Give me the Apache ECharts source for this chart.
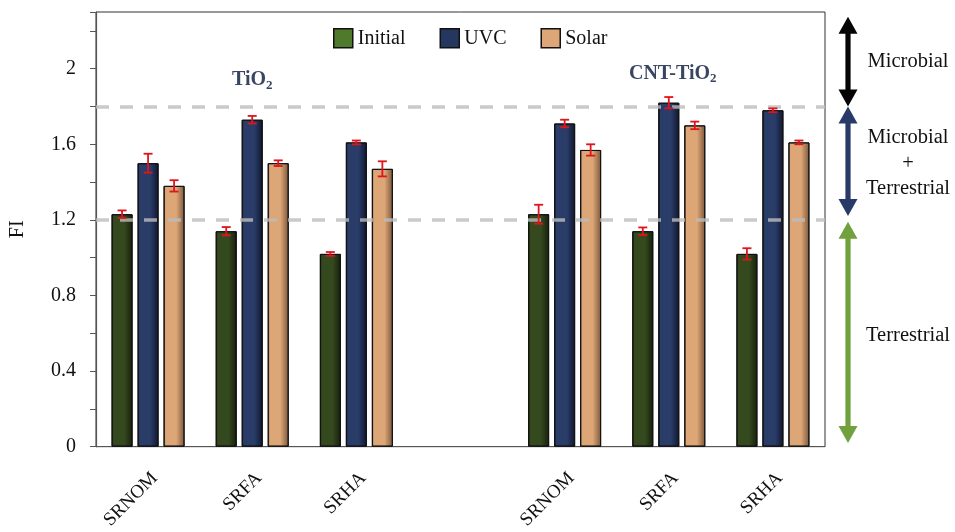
<!DOCTYPE html>
<html>
<head>
<meta charset="utf-8">
<style>
  html, body { margin: 0; padding: 0; background: #fff; }
  #chart { width: 955px; height: 532px; }
</style>
<script src="https://cdn.jsdelivr.net/npm/echarts@6/dist/echarts.min.js"></script>
</head>
<body>
<div id="chart"></div>
<script>
// Sample categories: TiO2 group, a spacer slot, then CNT-TiO2 group
const categories = ['SRNOM', 'SRFA', 'SRHA', '', 'SRNOM', 'SRFA', 'SRHA'];
const seriesNames = ['Initial', 'UVC', 'Solar'];

// Fluorescence index (FI) means
const initialFI = [1.23, 1.14, 1.02, null, 1.23, 1.14, 1.02];
const uvcFI     = [1.50, 1.73, 1.61, null, 1.71, 1.82, 1.78];
const solarFI   = [1.38, 1.50, 1.47, null, 1.57, 1.70, 1.61];

// Standard deviations (error bar half-lengths)
const initialErr = [0.02, 0.022, 0.01, null, 0.05, 0.02, 0.03];
const uvcErr     = [0.05, 0.02, 0.01, null, 0.02, 0.03, 0.01];
const solarErr   = [0.03, 0.015, 0.04, null, 0.03, 0.02, 0.01];

// Source-region thresholds
const thresholds = [1.2, 1.8];
const yTicks = ['0', '0.4', '0.8', '1.2', '1.6', '2'];

const SERIF = '"Liberation Serif", "DejaVu Serif", serif';
const BAR_W = 21, BAR_GAP = 5;

function shade(base, dark) {
  return new echarts.graphic.LinearGradient(0, 0, 1, 0, [
    { offset: 0, color: dark },
    { offset: 0.1, color: base },
    { offset: 0.6, color: base },
    { offset: 1, color: dark }
  ]);
}
const barFill = [
  shade('#35491f', '#161f0b'),
  shade('#2a3c68', '#0f1730'),
  shade('#dda677', '#7a573a')
];
const legendFill = ['#4f7a2b', '#25375e', '#dca676'];
const values = [initialFI, uvcFI, solarFI];
const errs = [initialErr, uvcErr, solarErr];

const errData = [];
values.forEach((vals, s) => {
  vals.forEach((v, i) => {
    if (v != null) errData.push([i, v, errs[s][i], s]);
  });
});

const chart = echarts.init(document.getElementById('chart'), null, { renderer: 'canvas' });

const barSeries = seriesNames.map((name, s) => ({
  name: name,
  type: 'bar',
  data: values[s],
  barWidth: BAR_W,
  barGap: (BAR_GAP / BAR_W * 100) + '%',
  itemStyle: { color: barFill[s], borderColor: '#111', borderWidth: 1 },
  z: 2
}));

barSeries[0].markLine = {
  silent: true,
  symbol: 'none',
  label: { show: false },
  lineStyle: { color: '#bdbdbd', type: [13, 11], width: 3.5, opacity: 0.8 },
  data: thresholds.map(t => ({ yAxis: t })),
  z: 5
};

const errorSeries = {
  type: 'custom',
  data: errData,
  z: 6,
  renderItem: function (params, api) {
    const x = api.value(0), v = api.value(1), e = api.value(2), s = api.value(3);
    const off = (s - 1) * (BAR_W + BAR_GAP);
    const hi = api.coord([x, v + e]);
    const lo = api.coord([x, v - e]);
    const cx = hi[0] + off;
    const cap = 4.5;
    const style = { stroke: '#e0141a', lineWidth: 1.8 };
    return {
      type: 'group',
      children: [
        { type: 'line', shape: { x1: cx, y1: hi[1], x2: cx, y2: lo[1] }, style: style },
        { type: 'line', shape: { x1: cx - cap, y1: hi[1], x2: cx + cap, y2: hi[1] }, style: style },
        { type: 'line', shape: { x1: cx - cap, y1: lo[1], x2: cx + cap, y2: lo[1] }, style: style }
      ]
    };
  }
};

chart.setOption({
  animation: false,
  textStyle: { fontFamily: SERIF },
  grid: {
    left: 96, right: 130, top: 12, bottom: 84,
    show: true, borderColor: '#333', borderWidth: 1
  },
  legend: {
    left: 328, top: 23,
    itemWidth: 19, itemHeight: 19, itemGap: 34,
    textStyle: { fontFamily: SERIF, fontSize: 20, color: '#111' },
    data: seriesNames.map((n, s) => ({
      name: n, icon: 'rect',
      itemStyle: { color: legendFill[s], borderColor: '#111', borderWidth: 1.5 }
    }))
  },
  xAxis: {
    type: 'category',
    data: categories,
    axisLine: { lineStyle: { color: '#555', width: 1.2 } },
    axisTick: { alignWithLabel: true, length: 6, lineStyle: { color: '#555' } },
    axisLabel: {
      rotate: 45, margin: 22, interval: 0, verticalAlign: 'top',
      fontFamily: SERIF, fontSize: 19, color: '#111'
    }
  },
  yAxis: {
    type: 'value',
    min: 0, max: 2.3, interval: 0.2,
    name: 'FI',
    nameLocation: 'middle',
    nameGap: 68,
    nameRotate: 90,
    nameTextStyle: { fontFamily: SERIF, fontSize: 20, color: '#111' },
    splitLine: { show: false },
    axisLine: { show: true, lineStyle: { color: '#555', width: 1.2 } },
    axisTick: { show: true, length: 6, lineStyle: { color: '#555' } },
    axisLabel: {
      margin: 20, fontFamily: SERIF, fontSize: 20, color: '#111',
      formatter: function (v) {
        const k = v / 0.4;
        if (Math.abs(k - Math.round(k)) > 1e-6) return '';
        return yTicks[Math.round(k)] || '';
      }
    }
  },
  series: barSeries.concat([errorSeries])
});

// Group titles and source-region arrows, placed through the axis scales
function py(v) { return chart.convertToPixel({ yAxisIndex: 0 }, v); }
function px(i) { return chart.convertToPixel({ xAxisIndex: 0 }, i); }

function doubleArrow(cx, y1, y2, color) {
  const hw = 9.5, hh = 17, sw = 2.6;
  return {
    type: 'polygon',
    shape: {
      points: [
        [cx, y1], [cx + hw, y1 + hh], [cx + sw, y1 + hh], [cx + sw, y2 - hh],
        [cx + hw, y2 - hh], [cx, y2], [cx - hw, y2 - hh], [cx - sw, y2 - hh],
        [cx - sw, y1 + hh], [cx - hw, y1 + hh]
      ]
    },
    style: { fill: color }
  };
}

const arrowX = 848, noteX = 908;
const noteFont = '20.5px ' + SERIF;
const graphics = [
  doubleArrow(arrowX, py(2.275), py(1.8), '#050505'),
  doubleArrow(arrowX, py(1.8), py(1.22), '#283a66'),
  doubleArrow(arrowX, py(1.19), py(0.02), '#70a13c'),
  {
    type: 'text', x: noteX, y: (py(2.27) + py(1.8)) / 2,
    style: { text: 'Microbial', font: noteFont, fill: '#111', align: 'center', verticalAlign: 'middle' }
  },
  {
    type: 'text', x: noteX, y: (py(1.8) + py(1.2)) / 2,
    style: {
      text: 'Microbial\n+\nTerrestrial', font: noteFont, fill: '#111',
      align: 'center', verticalAlign: 'middle', lineHeight: 25.5
    }
  },
  {
    type: 'text', x: noteX, y: py(0.59),
    style: { text: 'Terrestrial', font: noteFont, fill: '#111', align: 'center', verticalAlign: 'middle' }
  },
  {
    type: 'text', x: px(1), y: py(1.94),
    style: {
      text: '{m|TiO}{s|2}', align: 'center', verticalAlign: 'middle',
      rich: {
        m: { font: 'bold 20px ' + SERIF, fill: '#3a4562' },
        s: { font: 'bold 13px ' + SERIF, fill: '#3a4562', padding: [11, 0, 0, 0] }
      }
    }
  },
  {
    type: 'text', x: px(5) + 4, y: py(1.975),
    style: {
      text: '{m|CNT-TiO}{s|2}', align: 'center', verticalAlign: 'middle',
      rich: {
        m: { font: 'bold 20px ' + SERIF, fill: '#3a4562' },
        s: { font: 'bold 13px ' + SERIF, fill: '#3a4562', padding: [11, 0, 0, 0] }
      }
    }
  }
];
chart.setOption({ graphic: graphics });
</script>
</body>
</html>
